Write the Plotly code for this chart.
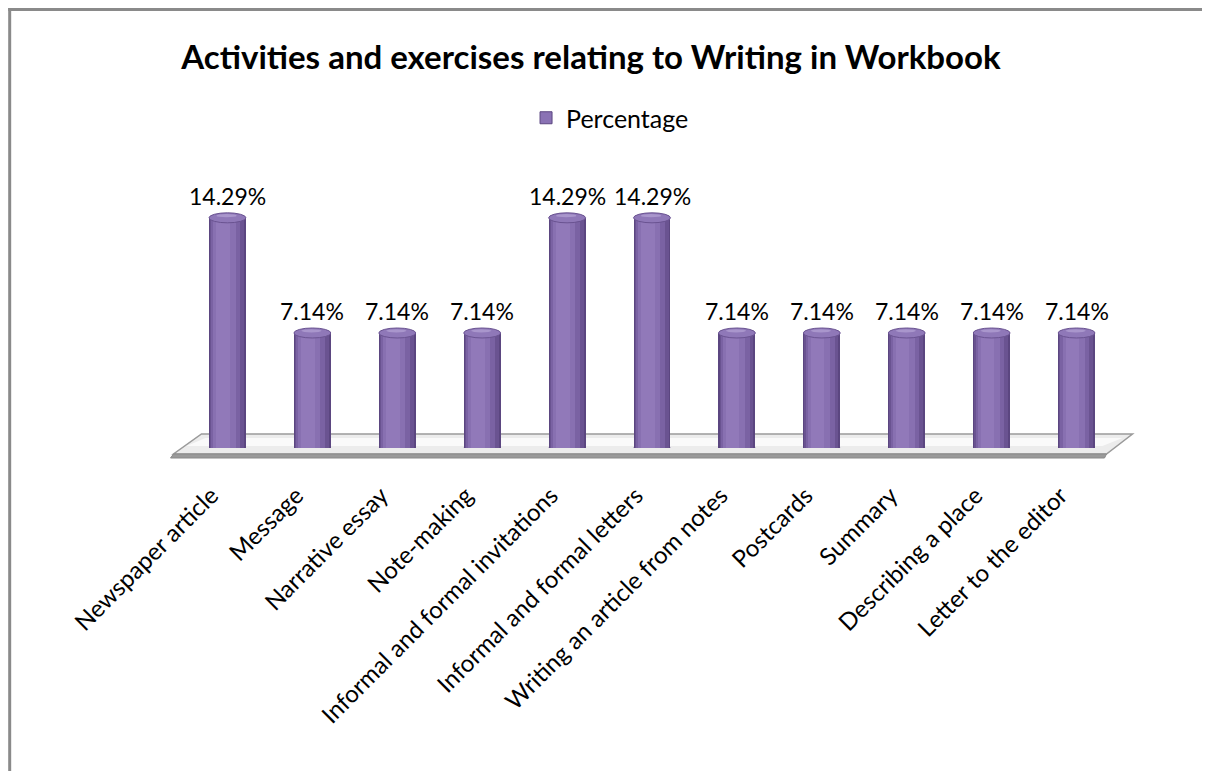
import plotly.graph_objects as go

categories = ["Newspaper article", "Message", "Narrative essay", "Note-making",
              "Informal and formal invitations", "Informal and formal letters",
              "Writing an article from notes", "Postcards", "Summary",
              "Describing a place", "Letter to the editor"]
percentages = [14.29, 7.14, 7.14, 7.14, 14.29, 14.29, 7.14, 7.14, 7.14, 7.14, 7.14]
series_name = "Percentage"

FONT = "Lato"
OFF = 8  # browser body margin
W, H = 1210, 771
SL, SR, ST, SB = 184.5, 1119.5, 150, 448
L = SL - OFF
T = ST - OFF
R = W - (SR - OFF)
B = H - (SB - OFF)
PW, PH = SR - SL, SB - ST
YMAX = 18.5
ppu = PH / YMAX

def px_x(px):
    return (px - SL) / PW

def px_y(py):
    return (SB - py) / PH

fig = go.Figure()

layers = [
    (0.435, 0.0, "#5b4680"),
    (0.40, -0.005, "#6a5391"),
    (0.34, -0.02, "#7a62a3"),
    (0.26, -0.035, "#8870b1"),
    (0.16, -0.05, "#9179b9"),
]
for w, off, col in layers:
    fig.add_trace(go.Bar(
        x=categories, y=percentages, width=w, offset=-w / 2 + off,
        marker=dict(color=col, line=dict(width=0)),
        name=series_name, showlegend=False, hoverinfo="skip",
    ))
fig.add_trace(go.Bar(
    x=[None], y=[None], name=series_name,
    marker=dict(color="#8a72b4", line=dict(color="#5b4680", width=1)),
    showlegend=True,
))

shapes = []
# chart border: only top and left edges fall inside the picture
shapes.append(dict(type="line", xref="paper", yref="paper",
                   x0=px_x(7.5), x1=px_x(1230), y0=px_y(9.5), y1=px_y(9.5),
                   line=dict(color="#8a8a8a", width=3), layer="below"))
shapes.append(dict(type="line", xref="paper", yref="paper",
                   x0=px_x(9), x1=px_x(9), y0=px_y(8), y1=px_y(800),
                   line=dict(color="#8a8a8a", width=3), layer="below"))
floor = "M {a},{b} L {c},{b} L {d},{e} L {f},{e} Z".format(
    a=px_x(201), b=px_y(434), c=px_x(1133), d=px_x(1107), e=px_y(454), f=px_x(173))
shapes.append(dict(type="path", xref="paper", yref="paper", path=floor,
                   fillcolor="#ececec", line=dict(color="#9a9a9a", width=1.5), layer="below"))
inner = "M {a},{b} L {c},{b} L {d},{e} L {f},{e} Z".format(
    a=px_x(205), b=px_y(438), c=px_x(1123), d=px_x(1103), e=px_y(446), f=px_x(186))
shapes.append(dict(type="path", xref="paper", yref="paper", path=inner,
                   fillcolor="#fafafa", line=dict(width=0), layer="below"))
front = "M {a},{b} L {c},{b} L {d},{e} L {f},{e} Z".format(
    a=px_x(173), b=px_y(454), c=px_x(1107), d=px_x(1105), e=px_y(458), f=px_x(170))
shapes.append(dict(type="path", xref="paper", yref="paper", path=front,
                   fillcolor="#9a9a9a", line=dict(color="#8a8a8a", width=1), layer="below"))

hw = 0.435 / 2
dy = 5 / ppu
for i, v in enumerate(percentages):
    shapes.append(dict(type="circle", xref="x", yref="y", x0=i - hw, x1=i + hw,
                       y0=-dy, y1=dy, fillcolor="#6a5391", line=dict(width=0), layer="between"))
    shapes.append(dict(type="circle", xref="x", yref="y", x0=i - hw, x1=i + hw,
                       y0=v - dy, y1=v + dy, fillcolor="#8f78b8",
                       line=dict(color="#6a5391", width=1), layer="above"))
    shapes.append(dict(type="circle", xref="x", yref="y", x0=i - hw * 0.6, x1=i + hw * 0.5,
                       y0=v + dy * 0.1, y1=v + dy * 0.75, fillcolor="#a996cc",
                       line=dict(width=0), layer="above"))

annotations = []
for c, v in zip(categories, percentages):
    annotations.append(dict(x=c, y=v, text=f"{v:.2f}%", showarrow=False,
                            yshift=22, yanchor="middle",
                            font=dict(family=FONT, size=23, color="#000000")))

fig.update_layout(
    width=W, height=H,
    margin=dict(l=L, r=R, t=T, b=B, autoexpand=False),
    paper_bgcolor="white", plot_bgcolor="rgba(0,0,0,0)",
    barmode="overlay", bargap=0,
    title=dict(text="<b>Activities and exercises relating to Writing in Workbook</b>",
               x=(591 - OFF) / W, xanchor="center", y=1 - (57 - OFF) / H, yanchor="middle",
               font=dict(family=FONT, size=33, color="#000000")),
    legend=dict(orientation="h", x=px_x(610), xanchor="center", y=px_y(118), yanchor="middle",
                font=dict(family=FONT, size=25, color="#000000"), bgcolor="rgba(0,0,0,0)",
                itemwidth=30),
    xaxis=dict(type="category", tickangle=-45, showgrid=False, showline=False, zeroline=False,
               ticks="outside", ticklen=23, tickcolor="rgba(0,0,0,0)", ticklabelshift=-16,
               tickfont=dict(family=FONT, size=24, color="#000000"), fixedrange=True),
    yaxis=dict(range=[0, YMAX], visible=False, fixedrange=True),
    shapes=shapes, annotations=annotations,
    showlegend=True,
)

fig.write_html("out.html")
